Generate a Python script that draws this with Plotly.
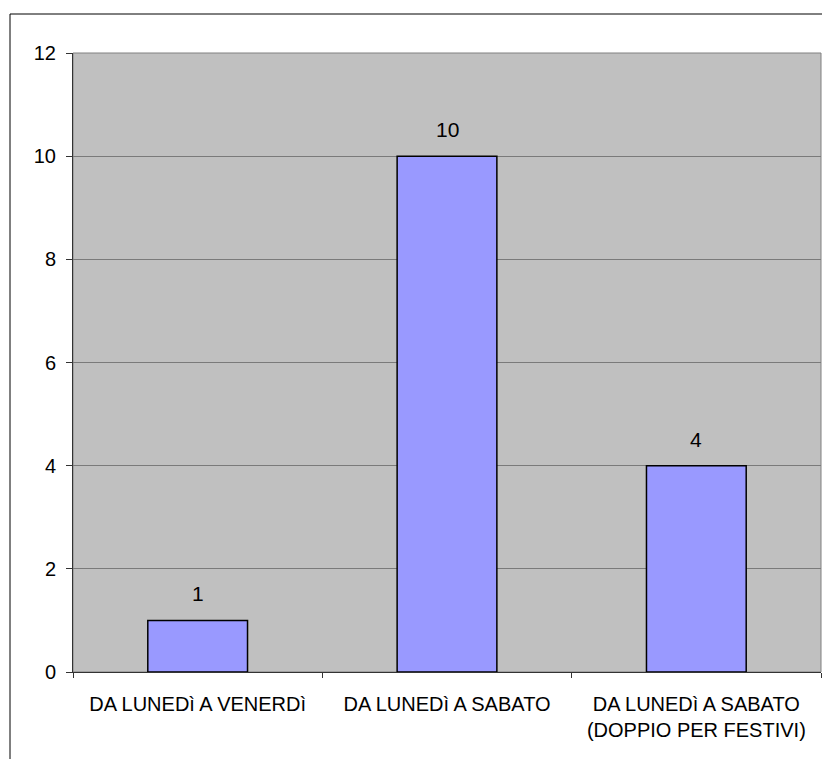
import plotly.graph_objects as go

categories = ["DA LUNEDì A VENERDì", "DA LUNEDì A SABATO", "DA LUNEDì A SABATO<br>(DOPPIO PER FESTIVI)"]
values = [1, 10, 4]
y_ticks = [0, 2, 4, 6, 8, 10, 12]

# page has an 8px body margin, so figure coords = page coords - 8
W, H = 814, 751
L, R, T, B = 65, 1, 45, 87
pw, ph = W - L - R, H - T - B

fig = go.Figure()
fig.add_trace(go.Bar(
    x=categories, y=values,
    marker=dict(color="#9999FF", line=dict(color="#000000", width=1.5)),
    hoverinfo="skip",
))

for c, v in zip(categories, values):
    fig.add_annotation(x=c, y=v, text=str(v), showarrow=False, yanchor="bottom",
                       yshift=13, font=dict(size=21, color="#000000"))

# outer chart border (extends past right/bottom edges)
fig.add_shape(type="rect", xref="paper", yref="paper",
              x0=(2 - L) / pw, x1=(W + 10 - L) / pw,
              y0=-(H + 10 - T - ph) / ph, y1=1 + (T - 6) / ph,
              line=dict(color="#000000", width=1), fillcolor="rgba(0,0,0,0)", layer="below")
# plot area border
fig.add_shape(type="rect", xref="paper", yref="paper", x0=0, x1=1, y0=0, y1=1,
              line=dict(color="#808080", width=1), fillcolor="rgba(0,0,0,0)", layer="below")

fig.update_layout(
    width=W, height=H,
    margin=dict(l=L, r=R, t=T, b=B),
    paper_bgcolor="#FFFFFF", plot_bgcolor="#C0C0C0",
    font=dict(family="Liberation Sans, Arial, sans-serif", color="#000000"),
    bargap=0.6, showlegend=False,
    xaxis=dict(tickson="boundaries", ticks="outside", ticklen=5, tickcolor="#333333",
               showline=True, linecolor="#333333", linewidth=1, showgrid=False,
               tickfont=dict(size=20), ticklabelstandoff=14, fixedrange=True),
    yaxis=dict(range=[0, 12], tickvals=y_ticks, ticktext=[str(t) for t in y_ticks],
               ticks="outside", ticklen=6, tickcolor="#333333",
               showline=True, linecolor="#333333", linewidth=1,
               showgrid=True, gridcolor="#7a7a7a", gridwidth=1, zeroline=False,
               tickfont=dict(size=20), ticklabelstandoff=6),
)

fig.write_html("out.html")
